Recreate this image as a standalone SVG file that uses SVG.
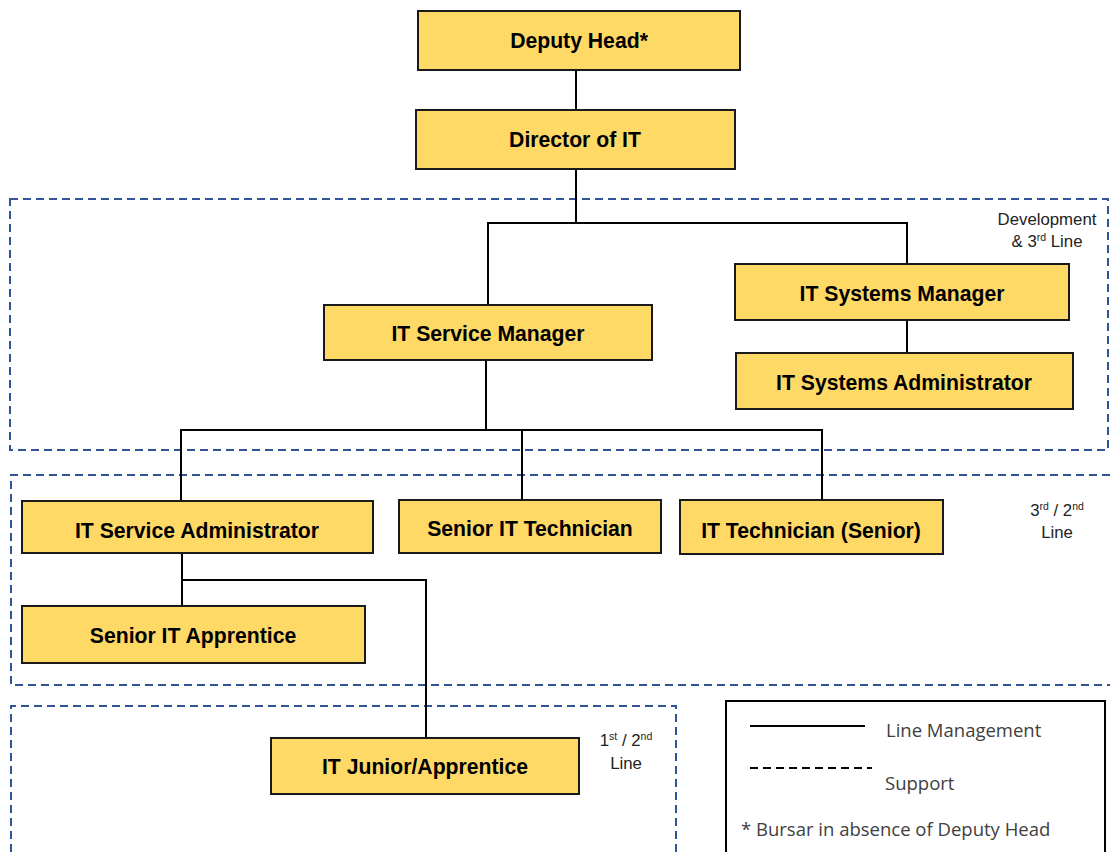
<svg xmlns="http://www.w3.org/2000/svg" width="1110" height="852" viewBox="0 0 1110 852">
<style>
.box{fill:#FFD966;stroke:#1a1a1a;stroke-width:2}
.lbl{font-family:"Liberation Sans",Arial,sans-serif;font-weight:bold;font-size:21.2px;fill:#000;text-anchor:middle}
.zone{fill:none;stroke:#2F5597;stroke-width:2;stroke-dasharray:8,5}
.zl{font-family:"Liberation Sans",Arial,sans-serif;font-size:16.8px;fill:#222;text-anchor:middle}
.sup{font-size:10.5px}
.conn{fill:none;stroke:#000;stroke-width:2}
.leg{font-family:"Open Sans","Liberation Sans",sans-serif;font-size:18.5px;fill:#404040}
</style>
<rect width="1110" height="852" fill="#fff"/>
<g id="zones">
<rect class="zone" x="10" y="199" width="1098" height="251"/>
<text class="zl" x="1047" y="225">Development</text>
<text class="zl" x="1047" y="247">&amp; 3<tspan class="sup" dy="-6">rd</tspan><tspan dy="6"> Line</tspan></text>
<path class="zone" d="M1110,475 H11 V685 H1110"/>
<text class="zl" x="1057" y="516">3<tspan class="sup" dy="-6">rd</tspan><tspan dy="6"> / 2</tspan><tspan class="sup" dy="-6">nd</tspan></text>
<text class="zl" x="1057" y="538">Line</text>
<path class="zone" d="M11,852 V706 H676 V852"/>
<text class="zl" x="626" y="746">1<tspan class="sup" dy="-6">st</tspan><tspan dy="6"> / 2</tspan><tspan class="sup" dy="-6">nd</tspan></text>
<text class="zl" x="626" y="769">Line</text>
</g>
<g id="connectors">
<path class="conn" d="M576,70 V110"/>
<path class="conn" stroke-width="3" d="M576,169 V223"/>
<path class="conn" d="M488,305 V223 H907 V264"/>
<path class="conn" d="M907,320 V353"/>
<path class="conn" stroke-width="3" d="M486,360 V430"/>
<path class="conn" d="M181,501 V430 H822 V500"/>
<path class="conn" d="M522,430 V500"/>
<path class="conn" d="M182,553 V606"/>
<path class="conn" d="M182,580 H426 V738"/>
</g>
<g id="deputy-head"><rect class="box" x="418" y="11" width="322" height="59"/><text class="lbl" x="579" y="48">Deputy Head*</text></g>
<g id="director-it"><rect class="box" x="416" y="110" width="319" height="59"/><text class="lbl" x="575" y="147">Director of IT</text></g>
<g id="it-systems-manager"><rect class="box" x="735" y="264" width="334" height="56"/><text class="lbl" x="902" y="301">IT Systems Manager</text></g>
<g id="it-service-manager"><rect class="box" x="324" y="305" width="328" height="55"/><text class="lbl" x="488" y="341">IT Service Manager</text></g>
<g id="it-systems-admin"><rect class="box" x="736" y="353" width="337" height="56"/><text class="lbl" x="904" y="390">IT Systems Administrator</text></g>
<g id="it-service-admin"><rect class="box" x="22" y="501" width="351" height="52"/><text class="lbl" x="197" y="538">IT Service Administrator</text></g>
<g id="senior-it-technician"><rect class="box" x="399" y="500" width="262" height="53"/><text class="lbl" x="530" y="536">Senior IT Technician</text></g>
<g id="it-technician-senior"><rect class="box" x="680" y="500" width="263" height="54"/><text class="lbl" x="811" y="538">IT Technician (Senior)</text></g>
<g id="senior-it-apprentice"><rect class="box" x="22" y="606" width="343" height="57"/><text class="lbl" x="193" y="643">Senior IT Apprentice</text></g>
<g id="it-junior-apprentice"><rect class="box" x="271" y="738" width="308" height="56"/><text class="lbl" x="425" y="774">IT Junior/Apprentice</text></g>
<g id="legend">
<rect x="726" y="701" width="379" height="160" fill="#fff" stroke="#000" stroke-width="2"/>
<line x1="750" y1="726" x2="865" y2="726" stroke="#000" stroke-width="2"/>
<line x1="750" y1="768" x2="872" y2="768" stroke="#000" stroke-width="2" stroke-dasharray="8,5"/>
<text class="leg" x="886" y="737">Line Management</text>
<text class="leg" x="885" y="790">Support</text>
<text class="leg" x="741" y="836">* Bursar in absence of Deputy Head</text>
</g>
</svg>
